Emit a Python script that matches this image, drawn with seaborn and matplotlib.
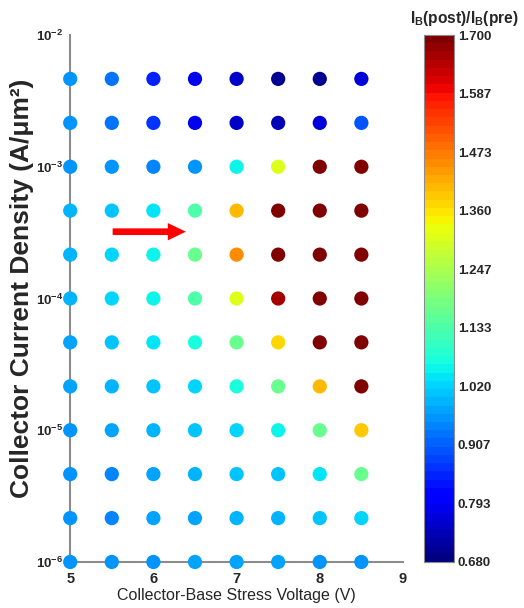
import numpy as np
import pandas as pd
import seaborn as sns
import matplotlib
matplotlib.use('Agg')
import matplotlib.pyplot as plt
from matplotlib.ticker import FixedLocator, FuncFormatter, LogLocator, NullFormatter

# --- Data ---
voltages = [5.0, 5.5, 6.0, 6.5, 7.0, 7.5, 8.0, 8.5]
# log10 of collector current density, top row first
log_jc = [-2.333, -2.667, -3.0, -3.333, -3.667, -4.0,
          -4.333, -4.667, -5.0, -5.333, -5.667, -6.0]
# IB(post)/IB(pre) per row (same order as log_jc), per voltage column
ratio_rows = [
    [0.96, 0.92, 0.85, 0.78, 0.75, 0.70, 0.70, 0.76],
    [0.96, 0.92, 0.86, 0.79, 0.75, 0.73, 0.76, 0.90],
    [0.955, 0.955, 0.945, 0.96, 1.06, 1.31, 1.70, 1.70],
    [0.99, 1.01, 1.04, 1.14, 1.41, 1.70, 1.70, 1.70],
    [0.99, 1.02, 1.06, 1.17, 1.445, 1.70, 1.70, 1.70],
    [0.99, 1.02, 1.06, 1.14, 1.31, 1.66, 1.70, 1.70],
    [0.98, 1.00, 1.04, 1.065, 1.16, 1.38, 1.70, 1.70],
    [0.98, 0.99, 1.00, 1.03, 1.07, 1.17, 1.40, 1.70],
    [0.96, 0.975, 0.985, 1.005, 1.02, 1.055, 1.17, 1.385],
    [0.96, 0.95, 0.97, 0.99, 1.01, 1.01, 1.045, 1.16],
    [0.96, 0.95, 0.97, 0.97, 0.995, 0.995, 1.00, 1.02],
    [0.96, 0.96, 0.955, 0.975, 0.98, 0.975, 0.955, 0.96],
]
vmin, vmax = 0.680, 1.700
cbar_ticks = [0.680, 0.793, 0.907, 1.020, 1.133, 1.247, 1.360, 1.473, 1.587, 1.700]

# long table for seaborn
records = []
for lj, row in zip(log_jc, ratio_rows):
    for v, r in zip(voltages, row):
        records.append({'voltage': v, 'jc': 10 ** lj, 'ratio': r})
df = pd.DataFrame(records)

sns.set_style('white')
plt.rcParams['font.family'] = ['Liberation Sans', 'DejaVu Sans']
plt.rcParams['mathtext.fontset'] = 'custom'
plt.rcParams['mathtext.rm'] = 'Liberation Sans'
plt.rcParams['mathtext.bf'] = 'Liberation Sans:bold'

cmap = plt.get_cmap('jet', 64)
grey = '#8c8c8c'

fig = plt.figure(figsize=(5.24, 6.08), dpi=100)
ax = fig.add_axes([0.134, 0.0757, 0.635, 0.8667])
cax = fig.add_axes([0.809, 0.0757, 0.057, 0.8667])

sns.scatterplot(data=df, x='voltage', y='jc', hue='ratio', palette=cmap,
                hue_norm=(vmin, vmax), s=105, linewidth=0, legend=False,
                clip_on=False, zorder=3, ax=ax)

ax.set_yscale('log')
ax.set_xlim(5, 9)
ax.set_ylim(1e-6, 1e-2)

for side in ['top', 'right']:
    ax.spines[side].set_visible(False)
for side in ['left', 'bottom']:
    ax.spines[side].set_color(grey)
    ax.spines[side].set_linewidth(1.5)

ax.xaxis.set_major_locator(FixedLocator([5, 6, 7, 8, 9]))
ax.yaxis.set_major_locator(LogLocator(base=10))
ax.yaxis.set_minor_locator(LogLocator(base=10, subs=np.arange(2, 10)))
ax.yaxis.set_minor_formatter(NullFormatter())
ax.yaxis.set_major_formatter(FuncFormatter(
    lambda val, pos: r'$\mathbf{10^{-%d}}$' % int(round(-np.log10(val)))))
ax.tick_params(axis='both', which='major', direction='in', length=4,
               color=grey, width=1)
ax.tick_params(axis='y', which='minor', direction='in', length=2.5,
               color=grey, width=0.8)
ax.tick_params(axis='x', labelsize=10.5, pad=7)
ax.tick_params(axis='y', labelsize=9.5, pad=5)
for lab in ax.get_xticklabels():
    lab.set_fontweight('bold')

ax.set_xlabel('Collector-Base Stress Voltage (V)', fontsize=11.5, labelpad=2)
ax.set_ylabel('Collector Current Density (A/\u03bcm\u00b2)', fontsize=19,
              fontweight='bold')
ax.yaxis.set_label_coords(-0.11, 0.52)

# red arrow annotation
ax.annotate('', xy=(6.39, 10 ** -3.493), xytext=(5.51, 10 ** -3.493),
            arrowprops=dict(facecolor='red', edgecolor='none', width=4.8,
                            headwidth=12.5, headlength=13))

# colorbar
sm = plt.cm.ScalarMappable(cmap=cmap, norm=plt.Normalize(vmin, vmax))
cbar = fig.colorbar(sm, cax=cax, ticks=cbar_ticks)
cbar.outline.set_edgecolor(grey)
cbar.ax.tick_params(direction='in', length=4, color='#444444', left=True,
                    right=True, labelsize=9.5, pad=3)
cbar.ax.set_yticklabels(['%.3f' % t for t in cbar_ticks], fontweight='bold')
cbar.ax.set_title(r'I$_{\mathbf{B}}$(post)/I$_{\mathbf{B}}$(pre)',
                  fontsize=11.2, fontweight='bold', pad=9, x=1.35)

fig.savefig('out.png', dpi=100)
